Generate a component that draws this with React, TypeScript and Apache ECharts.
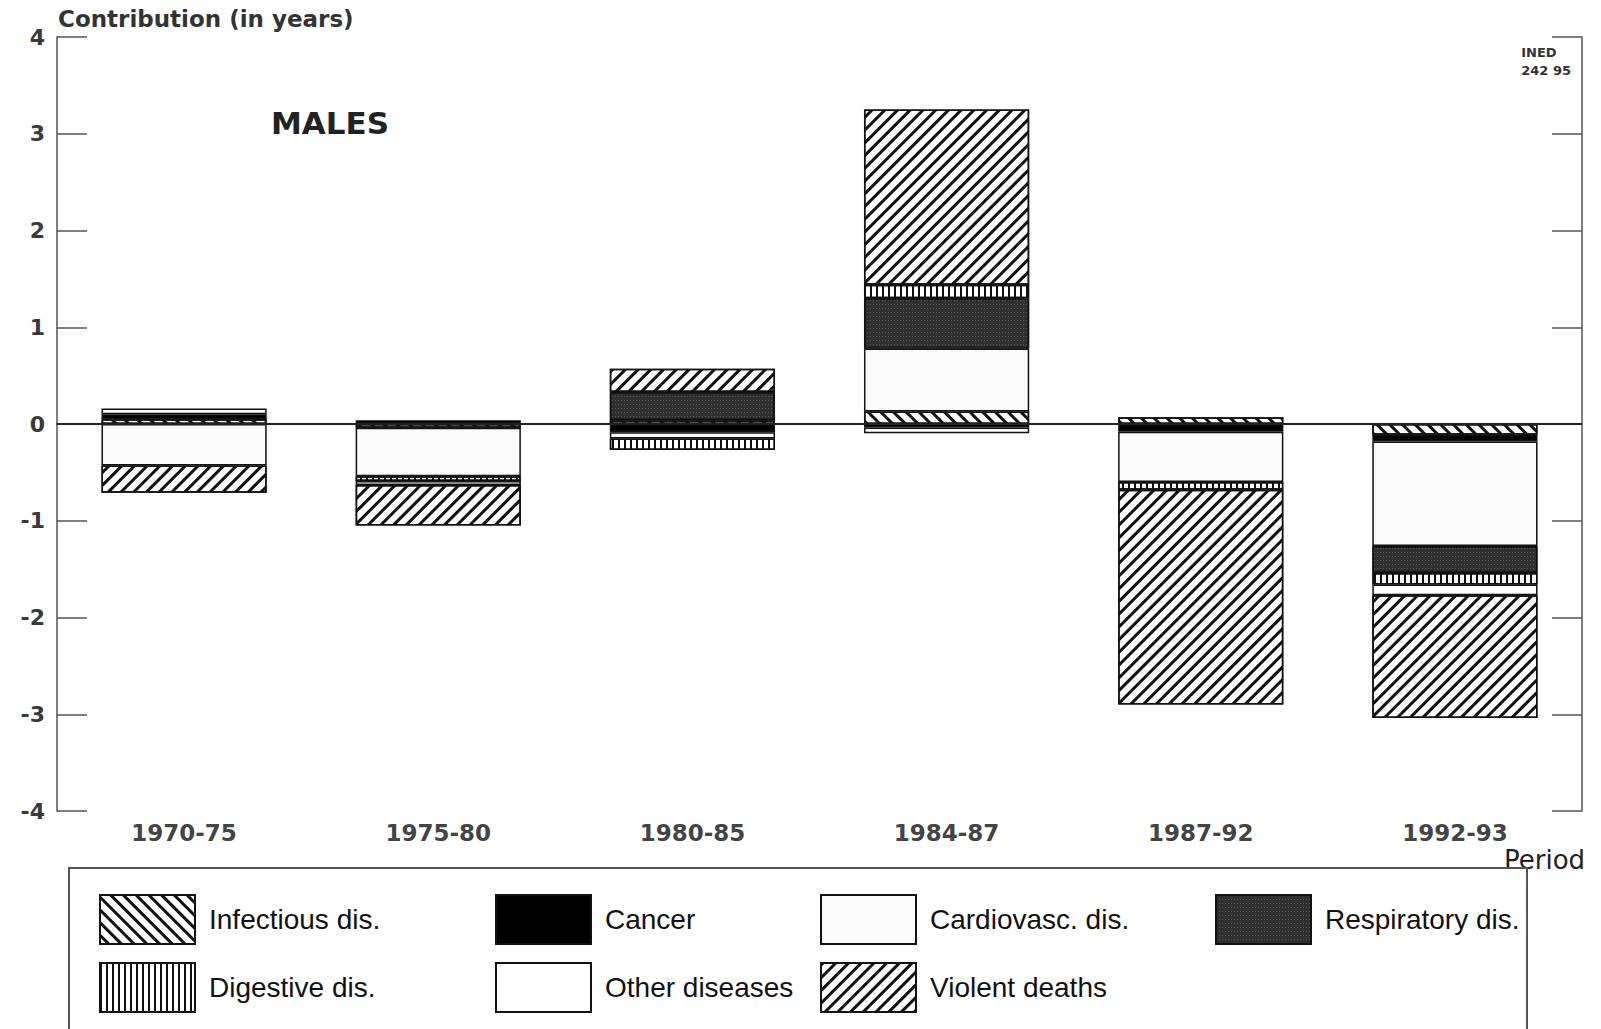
import React, { useEffect, useRef } from "react";
import * as echarts from "echarts";

const categories = ["1970-75", "1975-80", "1980-85", "1984-87", "1987-92", "1992-93"];
const infectious = [0.05, -0.04, 0.04, 0.13, 0.07, -0.11];
const cancer = [0.05, 0.04, -0.085, -0.035, -0.08, -0.07];
const cardiovascular = [-0.43, -0.5, -0.065, 0.65, -0.52, -1.08];
const respiratory: (number | string)[] = ["-", "-", 0.29, 0.52, "-", -0.28];
const digestive: (number | string)[] = ["-", -0.05, -0.12, 0.14, -0.08, -0.12];
const otherDiseases: (number | string)[] = [0.06, -0.04, "-", -0.06, "-", -0.11];
const violent = [-0.28, -0.42, 0.24, 1.81, -2.22, -1.27];

const seriesNames = [
  "Infectious dis.",
  "Cancer",
  "Cardiovasc. dis.",
  "Respiratory dis.",
  "Digestive dis.",
  "Other diseases",
  "Violent deaths",
];
const yMin = -4;
const yMax = 4;
const yStep = 1;

export default function App() {
  const ref = useRef<HTMLDivElement>(null);
  useEffect(() => {
    document.body.style.margin = "0";
    const chart = echarts.init(ref.current as HTMLDivElement, null, { renderer: "svg" });
    const border = { borderColor: "#111", borderWidth: 1.5 };
    const styles: any[] = [
      {
        color: "#ffffff",
        ...border,
        decal: { symbol: "rect", symbolSize: 1, dashArrayX: [1, 0], dashArrayY: [3, 6], rotation: Math.PI / 4, color: "#111" },
      },
      { color: "#000000", ...border },
      { color: "#fbfbfb", ...border },
      {
        color: "#2f2f2f",
        ...border,
        decal: { symbol: "rect", symbolSize: 1, dashArrayX: [1, 2], dashArrayY: [1, 3], color: "#5a5a5a" },
      },
      {
        color: "#ffffff",
        ...border,
        decal: { symbol: "rect", symbolSize: 1, dashArrayX: [2, 4], dashArrayY: [1, 0], color: "#111" },
      },
      { color: "#ffffff", ...border },
      {
        color: "#ffffff",
        ...border,
        decal: { symbol: "rect", symbolSize: 1, dashArrayX: [1, 0], dashArrayY: [3, 6], rotation: -Math.PI / 4, color: "#111" },
      },
    ];
    const dataSets = [infectious, cancer, cardiovascular, respiratory, digestive, otherDiseases, violent];
    const series: any[] = dataSets.map((d, i) => ({
      name: seriesNames[i],
      type: "bar",
      stack: "total",
      barWidth: "65%",
      data: d,
      itemStyle: styles[i],
      emphasis: { disabled: true },
      ...(i === 0
        ? {
            markLine: {
              silent: true,
              symbol: ["none", "none"],
              label: { show: false },
              lineStyle: { color: "#222", width: 2, type: "solid" },
              data: [{ yAxis: 0 }],
            },
          }
        : {}),
    }));

    const legendPos = [
      [99, 894],
      [495, 894],
      [820, 894],
      [1215, 894],
      [99, 962],
      [495, 962],
      [820, 962],
    ];
    const legends = seriesNames.map((n, i) => ({
      data: [n],
      left: legendPos[i][0],
      top: legendPos[i][1],
      padding: 0,
      icon: "rect",
      itemWidth: 95,
      itemHeight: 49,
      selectedMode: false,
      textStyle: { fontSize: 28, fontFamily: "Liberation Sans", color: "#111", padding: [0, 0, 0, 9] },
    }));

    const axisLineStyle = { color: "#555", width: 1.5 };
    chart.setOption({
      animation: false,
      backgroundColor: "#fff",
      grid: { left: 57, right: 19, top: 37, bottom: 218, containLabel: false },
      xAxis: [
        {
          type: "category",
          data: categories,
          position: "bottom",
          axisLine: { lineStyle: axisLineStyle },
          axisTick: { inside: true, length: 25, lineStyle: axisLineStyle },
          axisLabel: { fontSize: 23, fontWeight: "bold", fontFamily: "DejaVu Sans", color: "#444", margin: 10 },
        },
        {
          type: "category",
          data: categories,
          position: "top",
          axisLine: { lineStyle: axisLineStyle },
          axisTick: { inside: true, length: 24, lineStyle: axisLineStyle },
          axisLabel: { show: false },
        },
      ],
      yAxis: [
        {
          type: "value",
          min: yMin,
          max: yMax,
          interval: yStep,
          position: "left",
          axisLine: { show: true, lineStyle: axisLineStyle },
          axisTick: { show: true, inside: true, length: 30, lineStyle: axisLineStyle },
          splitLine: { show: false },
          axisLabel: { fontSize: 22, fontWeight: "bold", fontFamily: "DejaVu Sans", color: "#3a3a3a", margin: 12 },
        },
        {
          type: "value",
          min: yMin,
          max: yMax,
          interval: yStep,
          position: "right",
          axisLine: { show: true, lineStyle: axisLineStyle },
          axisTick: { show: true, inside: true, length: 30, lineStyle: axisLineStyle },
          splitLine: { show: false },
          axisLabel: { show: false },
        },
      ],
      legend: legends,
      series,
      graphic: [
        {
          type: "text",
          left: 58,
          top: 7,
          style: { text: "Contribution (in years)", fontSize: 23, fontWeight: "bold", fontFamily: "DejaVu Sans", fill: "#333" },
        },
        {
          type: "text",
          left: 271,
          top: 107,
          style: { text: "MALES", fontSize: 31, fontWeight: "bold", fontFamily: "DejaVu Sans", fill: "#222" },
        },
        {
          type: "text",
          right: 30,
          top: 43,
          style: { text: "INED\n242 95", fontSize: 13, fontWeight: "bold", fontFamily: "DejaVu Sans", fill: "#333", align: "right", lineHeight: 18 },
        },
        {
          type: "text",
          left: 1504,
          top: 847,
          z: 0,
          style: { text: "Period", fontSize: 26, fontFamily: "DejaVu Sans", fill: "#222" },
        },
        {
          type: "rect",
          z: 1,
          shape: { x: 69, y: 868, width: 1458, height: 220 },
          style: { fill: "#fff", stroke: "#555", lineWidth: 2 },
        },
      ],
    });
    return () => chart.dispose();
  }, []);
  return <div ref={ref} style={{ width: 1601, height: 1029 }} />;
}
